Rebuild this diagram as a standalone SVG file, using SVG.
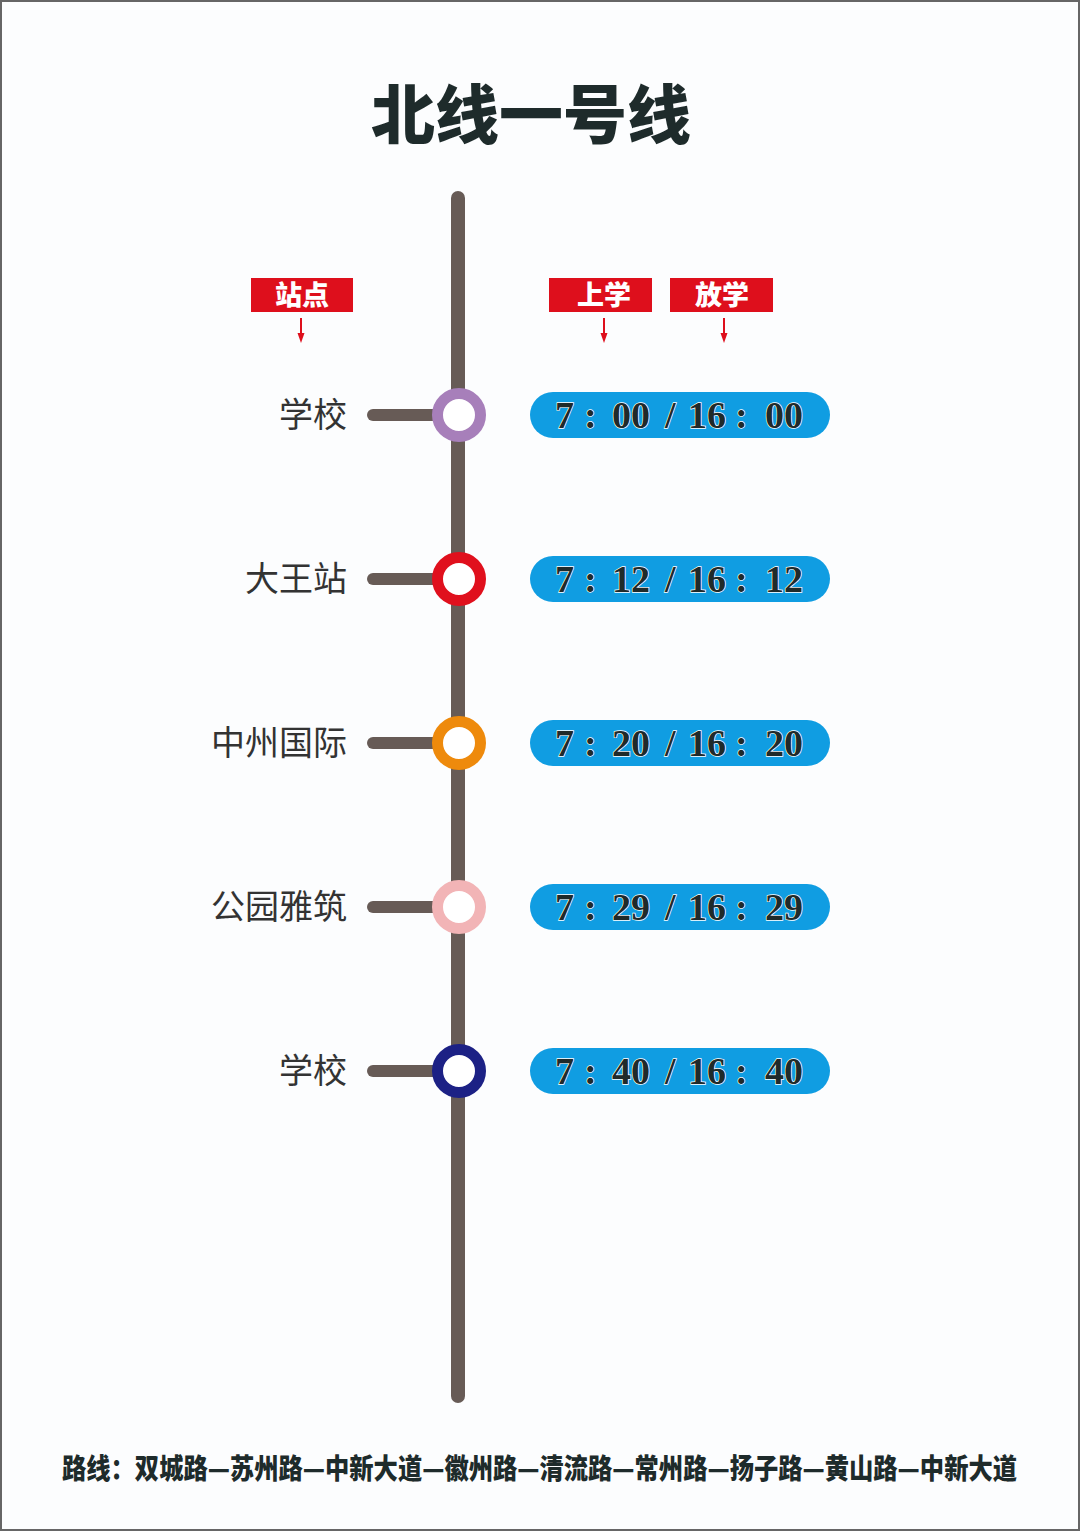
<svg xmlns="http://www.w3.org/2000/svg" width="1080" height="1531" viewBox="0 0 1080 1531">
<defs>
<style>
.lbl{font-family:"Noto Sans CJK SC","Noto Sans",sans-serif;font-size:34px;fill:#333333;text-anchor:end}
.hdr{font-family:"Noto Sans CJK SC",sans-serif;font-size:27px;font-weight:900;fill:#ffffff;text-anchor:middle}
.tm{font-family:"Liberation Serif","DejaVu Serif",serif;font-size:38px;font-weight:bold;fill:#1f2a2a;stroke:#ffffff;stroke-width:1.4;paint-order:stroke}
.pill{fill:#109de2}
.stub{stroke:#675b56;stroke-width:12;stroke-linecap:round}
.ring{fill:#ffffff;stroke-width:11}
.redbox{fill:#de0f1c}
.arr{stroke:#de0f1c;stroke-width:2}
.ahd{fill:#de0f1c}
</style>
</defs>
<rect x="0" y="0" width="1080" height="1531" fill="#fcfdfe"/>
<rect x="1" y="1" width="1078" height="1529" fill="none" stroke="#666666" stroke-width="2"/>

<text x="531" y="138" style="font-family:'Noto Sans CJK SC',sans-serif;font-size:64px;font-weight:900;fill:#1e2b2b;text-anchor:middle">北线一号线</text>

<g id="connectors">
<line x1="458" y1="198" x2="458" y2="1396" stroke="#675b56" stroke-width="14" stroke-linecap="round"/>
<line class="stub" x1="373" y1="415" x2="440" y2="415"/>
<line class="stub" x1="373" y1="579" x2="440" y2="579"/>
<line class="stub" x1="373" y1="743" x2="440" y2="743"/>
<line class="stub" x1="373" y1="907" x2="440" y2="907"/>
<line class="stub" x1="373" y1="1071" x2="440" y2="1071"/>
<line class="arr" x1="301" y1="318" x2="301" y2="334"/>
<polygon class="ahd" points="297.5,333 304.5,333 301,343"/>
<line class="arr" x1="604" y1="318" x2="604" y2="334"/>
<polygon class="ahd" points="600.5,333 607.5,333 604,343"/>
<line class="arr" x1="724" y1="318" x2="724" y2="334"/>
<polygon class="ahd" points="720.5,333 727.5,333 724,343"/>
</g>

<g id="header-station">
<rect class="redbox" x="251" y="278" width="102" height="34"/>
<text class="hdr" x="302" y="305">站点</text>
</g>
<g id="header-up">
<rect class="redbox" x="549" y="278" width="103" height="34"/>
<text class="hdr" x="604" y="305">上学</text>
</g>
<g id="header-down">
<rect class="redbox" x="670" y="278" width="103" height="34"/>
<text class="hdr" x="722" y="305">放学</text>
</g>

<g id="stop1">
<text class="lbl" x="347" y="427">学校</text>
<circle class="ring" cx="459" cy="415" r="21.5" stroke="#a77fba"/>
<rect class="pill" x="530" y="392" width="300" height="46" rx="23"/>
<text class="tm" y="428"><tspan x="555">7</tspan><tspan x="584">:</tspan><tspan x="612">00</tspan><tspan x="665">/</tspan><tspan x="688">16</tspan><tspan x="735">:</tspan><tspan x="765">00</tspan></text>
</g>
<g id="stop2">
<text class="lbl" x="347" y="591">大王站</text>
<circle class="ring" cx="459" cy="579" r="21.5" stroke="#e0101d"/>
<rect class="pill" x="530" y="556" width="300" height="46" rx="23"/>
<text class="tm" y="592"><tspan x="555">7</tspan><tspan x="584">:</tspan><tspan x="612">12</tspan><tspan x="665">/</tspan><tspan x="688">16</tspan><tspan x="735">:</tspan><tspan x="765">12</tspan></text>
</g>
<g id="stop3">
<text class="lbl" x="347" y="755">中州国际</text>
<circle class="ring" cx="459" cy="743" r="21.5" stroke="#ee8a0c"/>
<rect class="pill" x="530" y="720" width="300" height="46" rx="23"/>
<text class="tm" y="756"><tspan x="555">7</tspan><tspan x="584">:</tspan><tspan x="612">20</tspan><tspan x="665">/</tspan><tspan x="688">16</tspan><tspan x="735">:</tspan><tspan x="765">20</tspan></text>
</g>
<g id="stop4">
<text class="lbl" x="347" y="919">公园雅筑</text>
<circle class="ring" cx="459" cy="907" r="21.5" stroke="#f2b4b6"/>
<rect class="pill" x="530" y="884" width="300" height="46" rx="23"/>
<text class="tm" y="920"><tspan x="555">7</tspan><tspan x="584">:</tspan><tspan x="612">29</tspan><tspan x="665">/</tspan><tspan x="688">16</tspan><tspan x="735">:</tspan><tspan x="765">29</tspan></text>
</g>
<g id="stop5">
<text class="lbl" x="347" y="1083">学校</text>
<circle class="ring" cx="459" cy="1071" r="21.5" stroke="#1c2185"/>
<rect class="pill" x="530" y="1048" width="300" height="46" rx="23"/>
<text class="tm" y="1084"><tspan x="555">7</tspan><tspan x="584">:</tspan><tspan x="612">40</tspan><tspan x="665">/</tspan><tspan x="688">16</tspan><tspan x="735">:</tspan><tspan x="765">40</tspan></text>
</g>

<g transform="translate(62,1479) scale(1,1.2)">
<text x="0" y="0" textLength="955" lengthAdjust="spacingAndGlyphs" style="font-family:'Noto Sans CJK SC',sans-serif;font-size:24px;font-weight:900;fill:#1e2b2b">路线：双城路—苏州路—中新大道—徽州路—清流路—常州路—扬子路—黄山路—中新大道</text>
</g>
</svg>
